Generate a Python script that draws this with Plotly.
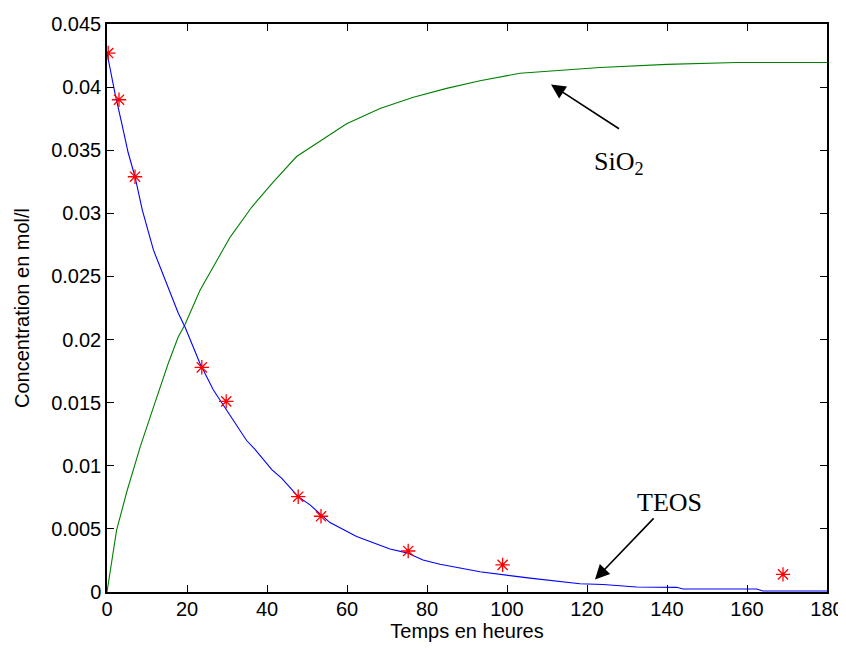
import plotly.graph_objects as go

# Experimental TEOS points (red stars)
t_exp = [0.3, 3, 7, 23.7, 29.8, 47.8, 53.5, 75.3, 98.9, 169]
c_exp = [0.0427, 0.0390, 0.0329, 0.0178, 0.0151, 0.00755, 0.0060, 0.00325, 0.00215, 0.0014]

# Model TEOS curve (blue)
t_teos = [0, 2, 3.7, 5.3, 7, 8.8, 11.6, 14.5, 17.8, 19.5, 23.25, 26.6, 29.9, 34.9, 37,
          41.2, 43.7, 47.8, 50.75, 55.75, 62.4, 68.25, 70.75, 75, 79, 83.25, 93.25,
          105.75, 110.75, 118.25, 124, 132.4, 142.4, 144, 162.4, 164, 180]
c_teos = [0.0427, 0.0395, 0.0371, 0.0348, 0.0329, 0.0303, 0.0271, 0.0247, 0.0221, 0.0210,
          0.0181, 0.0160, 0.0144, 0.0120, 0.0113, 0.0097, 0.0090, 0.00755, 0.0069, 0.0055,
          0.0044, 0.0037, 0.0034, 0.0031, 0.00253, 0.0022, 0.0016, 0.0011, 0.0009, 0.00065,
          0.00060, 0.00040, 0.00037, 0.00024, 0.00024, 0.00008, 0.00008]

# Model SiO2 curve (green)
t_sio2 = [0, 2.4, 5, 8.3, 12, 15.3, 17.8, 19.5, 23.25, 27, 30.75, 36.2, 41.6, 47.4, 53.25,
          59.9, 68.25, 76.6, 84.9, 93.25, 103.25, 112.4, 123.25, 140, 157.4, 180]
c_sio2 = [0, 0.0049, 0.0080, 0.0115, 0.0150, 0.0181, 0.0202, 0.0212, 0.0239, 0.0260, 0.0281,
          0.0305, 0.0325, 0.0345, 0.0357, 0.0371, 0.0383, 0.0392, 0.0399, 0.0405, 0.0411,
          0.0413, 0.04155, 0.0418, 0.04195, 0.04195]

x_ticks = [0, 20, 40, 60, 80, 100, 120, 140, 160, 180]
y_ticks = [0, 0.005, 0.01, 0.015, 0.02, 0.025, 0.03, 0.035, 0.04, 0.045]
y_ticktext = ["0", "0.005", "0.01", "0.015", "0.02", "0.025", "0.03", "0.035", "0.04", "0.045"]

fig = go.Figure()
fig.add_trace(go.Scatter(x=t_sio2, y=c_sio2, mode="lines",
                         line=dict(color="#008000", width=1.1), showlegend=False))
fig.add_trace(go.Scatter(x=t_teos, y=c_teos, mode="lines",
                         line=dict(color="#0000ff", width=1.1), showlegend=False))
fig.add_trace(go.Scatter(x=t_exp, y=c_exp, mode="markers",
                         marker=dict(symbol="asterisk-open", size=12, color="red",
                                     line=dict(color="red", width=1.3)),
                         showlegend=False))

font_ax = dict(family="Liberation Sans, Arial, sans-serif", size=20, color="black")
font_txt = dict(family="Liberation Serif, Times New Roman, serif", size=26, color="black")

# SiO2 label with arrow (tail at top of text box)
fig.add_annotation(x=111, y=0.0402, ax=128, ay=0.0367, xref="x", yref="y",
                   axref="x", ayref="y", text="SiO<sub>2</sub>", showarrow=True,
                   yanchor="top", xanchor="center", borderpad=17, font=font_txt,
                   arrowhead=2, arrowsize=1.8, arrowwidth=1.6, arrowcolor="black")
# TEOS label with arrow
fig.add_annotation(x=122, y=0.0010, ax=140.5, ay=0.0071, xref="x", yref="y",
                   axref="x", ayref="y", text="TEOS", showarrow=True, font=font_txt,
                   arrowhead=2, arrowsize=1.8, arrowwidth=1.6, arrowcolor="black")

axis_common = dict(showgrid=False, zeroline=False, showline=True, linecolor="black",
                   linewidth=1.5, ticks="inside", ticklen=7, tickcolor="black",
                   tickwidth=1, mirror="allticks", tickfont=font_ax, automargin=False)

fig.update_xaxes(range=[0, 180], tickvals=x_ticks, ticklabelstandoff=-2,
                 title=dict(text="Temps en heures", font=font_ax, standoff=4),
                 **axis_common)
fig.update_yaxes(range=[0, 0.045], tickvals=y_ticks, ticktext=y_ticktext,
                 title=dict(text="Concentration en mol/l", font=font_ax, standoff=16),
                 **axis_common)

# page body has an 8px margin, so the figure is drawn offset by 8px
fig.update_layout(width=838, height=642, plot_bgcolor="white", paper_bgcolor="white",
                  margin=dict(l=99, r=19, t=16, b=58, autoexpand=False), showlegend=False)

fig.write_html("out.html")
